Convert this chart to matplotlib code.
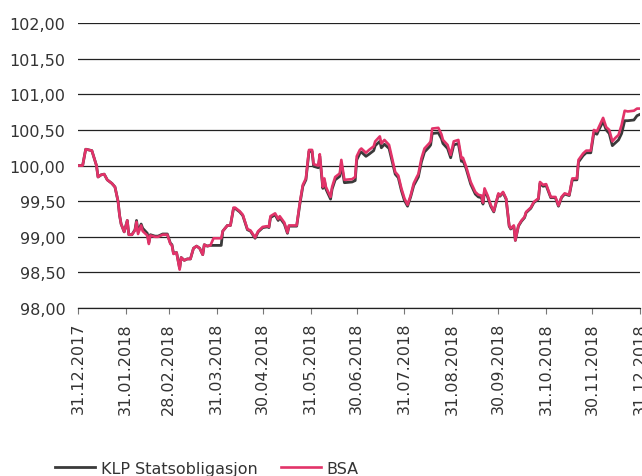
import numpy as np
import pandas as pd
import matplotlib
matplotlib.use("Agg")
import matplotlib.pyplot as plt
import matplotlib.dates as mdates
from matplotlib.ticker import FuncFormatter

days = [0, 3, 5, 9, 12, 13, 15, 17, 19, 22, 24, 26, 27, 28, 30, 32, 33, 35, 37, 38,
        39, 41, 42, 45, 46, 47, 50, 52, 55, 58, 60, 61, 62, 64, 66, 67, 69, 71, 73, 75,
        77, 79, 81, 82, 84, 86, 88, 92, 93, 94, 97, 99, 101, 102, 105, 107, 110, 112, 115, 117,
        120, 123, 124, 125, 128, 130, 131, 134, 136, 137, 142, 144, 146, 148, 150, 152, 153, 156, 157, 159,
        160, 161, 164, 165, 167, 170, 171, 173, 178, 180, 181, 183, 184, 187, 189, 192, 193, 196, 197, 199,
        202, 204, 206, 208, 210, 212, 214, 216, 218, 220, 221, 223, 225, 228, 229, 230, 234, 236, 237, 240,
        242, 244, 247, 249, 250, 252, 255, 258, 260, 262, 263, 264, 266, 268, 270, 273, 274, 276, 278, 280,
        281, 283, 284, 286, 288, 290, 291, 294, 296, 299, 300, 302, 304, 307, 310, 312, 314, 316, 319, 321,
        324, 325, 328, 330, 333, 335, 337, 338, 341, 343, 345, 347, 349, 351, 353, 355, 357, 361, 363, 365]

bsa = [100.00, 100.00, 100.23, 100.21, 100.00, 99.84, 99.87, 99.88, 99.80, 99.75, 99.70, 99.50, 99.30, 99.18, 99.07, 99.23, 99.03, 99.03, 99.09, 99.21,
       99.04, 99.16, 99.08, 99.02, 98.90, 99.02, 99.00, 99.00, 99.03, 99.03, 98.90, 98.88, 98.76, 98.78, 98.54, 98.71, 98.67, 98.69, 98.69, 98.84,
       98.87, 98.84, 98.75, 98.89, 98.87, 98.88, 98.98, 98.98, 98.98, 99.08, 99.16, 99.16, 99.41, 99.41, 99.36, 99.31, 99.11, 99.09, 98.99, 99.08,
       99.14, 99.15, 99.14, 99.29, 99.33, 99.25, 99.29, 99.20, 99.06, 99.16, 99.16, 99.47, 99.73, 99.82, 100.22, 100.22, 100.02, 100.00, 100.16, 99.70,
       99.82, 99.70, 99.56, 99.70, 99.84, 99.89, 100.08, 99.80, 99.81, 99.84, 100.13, 100.22, 100.24, 100.18, 100.22, 100.27, 100.34, 100.41, 100.31, 100.36,
       100.29, 100.10, 99.91, 99.86, 99.68, 99.54, 99.45, 99.58, 99.75, 99.84, 99.88, 100.10, 100.24, 100.31, 100.34, 100.52, 100.53, 100.44, 100.36, 100.29,
       100.15, 100.34, 100.36, 100.10, 100.11, 99.99, 99.77, 99.63, 99.59, 99.58, 99.48, 99.68, 99.58, 99.45, 99.36, 99.61, 99.58, 99.63, 99.54, 99.16,
       99.12, 99.16, 98.95, 99.16, 99.23, 99.28, 99.35, 99.41, 99.49, 99.54, 99.77, 99.73, 99.74, 99.56, 99.56, 99.44, 99.56, 99.61, 99.59, 99.82,
       99.82, 100.08, 100.17, 100.21, 100.21, 100.50, 100.48, 100.53, 100.67, 100.54, 100.50, 100.34, 100.39, 100.43, 100.57, 100.77, 100.76, 100.77, 100.80, 100.80]

klp = [100.00, 100.00, 100.23, 100.21, 100.00, 99.84, 99.87, 99.88, 99.80, 99.75, 99.70, 99.50, 99.30, 99.18, 99.07, 99.23, 99.03, 99.03, 99.10, 99.23,
       99.07, 99.18, 99.12, 99.05, 98.92, 99.03, 99.01, 99.01, 99.04, 99.04, 98.91, 98.89, 98.77, 98.78, 98.56, 98.71, 98.67, 98.69, 98.69, 98.84,
       98.87, 98.84, 98.75, 98.89, 98.87, 98.88, 98.88, 98.88, 98.88, 99.08, 99.16, 99.16, 99.40, 99.40, 99.35, 99.30, 99.10, 99.08, 98.98, 99.07,
       99.13, 99.14, 99.13, 99.27, 99.31, 99.23, 99.27, 99.18, 99.05, 99.15, 99.15, 99.45, 99.71, 99.80, 100.20, 100.20, 99.99, 99.97, 100.13, 99.68,
       99.79, 99.67, 99.53, 99.67, 99.80, 99.85, 100.03, 99.76, 99.77, 99.79, 100.08, 100.17, 100.19, 100.13, 100.16, 100.21, 100.28, 100.34, 100.25, 100.30,
       100.24, 100.06, 99.88, 99.83, 99.65, 99.51, 99.43, 99.56, 99.72, 99.80, 99.84, 100.05, 100.19, 100.26, 100.29, 100.45, 100.46, 100.38, 100.31, 100.24,
       100.11, 100.29, 100.31, 100.06, 100.07, 99.96, 99.74, 99.60, 99.56, 99.55, 99.46, 99.65, 99.56, 99.43, 99.35, 99.60, 99.57, 99.62, 99.53, 99.15,
       99.11, 99.15, 98.95, 99.15, 99.22, 99.27, 99.34, 99.40, 99.48, 99.53, 99.75, 99.71, 99.72, 99.55, 99.55, 99.43, 99.55, 99.60, 99.58, 99.80,
       99.80, 100.05, 100.14, 100.18, 100.18, 100.46, 100.44, 100.49, 100.62, 100.50, 100.45, 100.28, 100.32, 100.36, 100.45, 100.63, 100.63, 100.64, 100.70, 100.72]

month_ends = ["2017-12-31", "2018-01-31", "2018-02-28", "2018-03-31", "2018-04-30", "2018-05-31", "2018-06-30",
              "2018-07-31", "2018-08-31", "2018-09-30", "2018-10-31", "2018-11-30", "2018-12-31"]

dates = pd.Timestamp("2017-12-31") + pd.to_timedelta(days, unit="D")
ticks = pd.to_datetime(month_ends)

plt.rcParams['font.family'] = ['DejaVu Sans']
txt = '#333333'

fig = plt.figure(figsize=(6.42, 4.77), dpi=100)
ax = fig.add_axes([0.1215, 0.352, 0.8755, 0.5975])

ax.plot(dates, klp, color='#3a3a3a', lw=2.0, label='KLP Statsobligasjon', zorder=3)
ax.plot(dates, bsa, color='#e23369', lw=1.9, label='BSA', zorder=4)

ax.set_ylim(98, 102)
ax.set_yticks(np.arange(98, 102.01, 0.5))
ax.yaxis.set_major_formatter(FuncFormatter(lambda v, p: f"{v:.2f}".replace('.', ',')))
ax.set_xlim(ticks[0], ticks[-1])
ax.set_xticks(ticks)
ax.xaxis.set_major_formatter(mdates.DateFormatter('%d.%m.%Y'))

ax.grid(axis='y', color='#222222', lw=0.9)
ax.set_axisbelow(True)
for s in ['left', 'right', 'top']:
    ax.spines[s].set_visible(False)
ax.spines['bottom'].set_color('#222222')
ax.spines['bottom'].set_linewidth(0.9)

ax.tick_params(axis='y', length=0, pad=9, labelsize=11.5, labelcolor=txt)
ax.tick_params(axis='x', length=4, width=0.8, color='#777777', pad=6, labelsize=11.5,
               labelcolor=txt, labelrotation=90)

fig.legend(loc='center left', bbox_to_anchor=(0.0857, 0.016), ncol=2, frameon=False,
           fontsize=11.5, handlelength=2.5, handletextpad=0.35, columnspacing=1.5,
           borderpad=0, borderaxespad=0, labelcolor=txt)

fig.savefig('out.png', dpi=100)
